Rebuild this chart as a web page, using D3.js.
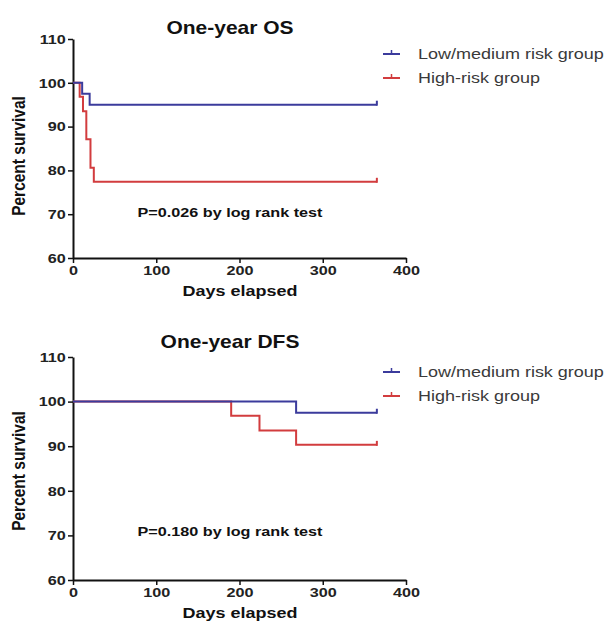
<!DOCTYPE html>
<html>
<head>
<meta charset="utf-8">
<script src="https://cdn.jsdelivr.net/npm/d3@7"></script>
<style>
  body { margin: 0; background: #fff; }
  svg { display: block; font-family: "Liberation Sans", Arial, sans-serif; }
</style>
</head>
<body>
<div id="chart"></div>
<script>
// tick labels and groups
const xTicks = [0, 100, 200, 300, 400];
const yTicks = [60, 70, 80, 90, 100, 110];
const groups = ["Low/medium risk group", "High-risk group"];
const colors = ["#3b3b9c", "#d23c3e"];

// one-year OS (Kaplan-Meier steps)
const osLowDays = [0, 11, 20, 365];
const osLowPct = [100, 97.5, 95, 95];
const osHighDays = [0, 8, 12, 16, 21, 25, 365];
const osHighPct = [100, 96.8, 93.5, 87.1, 80.6, 77.4, 77.4];

// one-year DFS
const dfsLowDays = [0, 268, 365];
const dfsLowPct = [100, 97.5, 97.5];
const dfsHighDays = [0, 190, 224, 268, 365];
const dfsHighPct = [100, 96.8, 93.5, 90.3, 90.3];

const stretch = 1.2; // the source picture is a bit wider than tall

const svg = d3.select("#chart")
    .append("svg")
    .attr("width", 606)
    .attr("height", 628);

function addText(g, x, y, str, size, weight, anchor, fill) {
    return g.append("text")
        .attr("transform", `translate(${x},${y}) scale(${stretch},1)`)
        .attr("font-size", size)
        .attr("font-weight", weight)
        .attr("text-anchor", anchor)
        .attr("fill", fill || "#111")
        .text(str);
}

function drawPanel(p) {
    const g = svg.append("g");

    const x = d3.scaleLinear().domain([0, 400]).range([73, 406]);
    const y = d3.scaleLinear().domain([60, 110]).range([p.bottom, p.top]);

    const xAxis = g.append("g")
        .attr("transform", `translate(0,${p.bottom})`)
        .call(d3.axisBottom(x).tickValues(xTicks).tickSize(5).tickPadding(2).tickSizeOuter(0));
    const yAxis = g.append("g")
        .attr("transform", `translate(73,0)`)
        .call(d3.axisLeft(y).tickValues(yTicks).tickSize(5).tickPadding(1).tickSizeOuter(0));

    [xAxis, yAxis].forEach(a => {
        a.select(".domain").attr("stroke", "#111").attr("stroke-width", 2);
        a.selectAll(".tick line").attr("stroke", "#111").attr("stroke-width", 1.5);
        a.selectAll(".tick text")
            .attr("font-size", 13.5)
            .attr("font-weight", "bold")
            .attr("fill", "#222")
            .attr("font-family", "Liberation Sans, Arial, sans-serif")
            .attr("transform", `scale(${stretch},1)`);
    });

    const line = d3.line()
        .x(d => x(d[0]))
        .y(d => y(d[1]))
        .curve(d3.curveStepAfter);

    // high-risk first so the low/medium curve sits on top where they overlap
    p.series.map((s, i) => ({s, i})).reverse().forEach(({s, i}) => {
        const pts = d3.zip(s.days, s.pct);
        g.append("path")
            .datum(pts)
            .attr("fill", "none")
            .attr("stroke", colors[i])
            .attr("stroke-width", 2)
            .attr("d", line);
        // censor mark at the end of follow-up
        const last = pts[pts.length - 1];
        g.append("line")
            .attr("x1", x(last[0])).attr("x2", x(last[0]))
            .attr("y1", y(last[1]) + 1).attr("y2", y(last[1]) - 4)
            .attr("stroke", colors[i])
            .attr("stroke-width", 2);
    });

    addText(g, 230, p.titleY, p.title, 17.5, "bold", "middle");
    addText(g, 240, p.bottom + 38, "Days elapsed", 15, "bold", "middle");
    g.append("text")
        .attr("transform", `translate(25,${p.labelY}) scale(${stretch},1) rotate(-90)`)
        .attr("font-size", 15.5)
        .attr("font-weight", "bold")
        .attr("text-anchor", "middle")
        .attr("fill", "#111")
        .text("Percent survival");
    addText(g, 230, p.pY, p.pText, 13.5, "bold", "middle");

    // legend
    groups.forEach((name, i) => {
        const ly = p.legendY + i * 24;
        g.append("line")
            .attr("x1", 383).attr("x2", 400)
            .attr("y1", ly).attr("y2", ly)
            .attr("stroke", colors[i]).attr("stroke-width", 2);
        g.append("line")
            .attr("x1", 391.5).attr("x2", 391.5)
            .attr("y1", ly).attr("y2", ly - 4)
            .attr("stroke", colors[i]).attr("stroke-width", 1.5);
        addText(g, 418, ly + 5, name, 15, "normal", "start", "#3a3a3a");
    });
}

drawPanel({
    top: 39, bottom: 258,
    title: "One-year OS", titleY: 34,
    labelY: 156, pY: 217, pText: "P=0.026 by log rank test",
    legendY: 54,
    series: [
        {days: osLowDays, pct: osLowPct},
        {days: osHighDays, pct: osHighPct}
    ]
});

drawPanel({
    top: 357, bottom: 580,
    title: "One-year DFS", titleY: 348,
    labelY: 471, pY: 536, pText: "P=0.180 by log rank test",
    legendY: 372,
    series: [
        {days: dfsLowDays, pct: dfsLowPct},
        {days: dfsHighDays, pct: dfsHighPct}
    ]
});
</script>
</body>
</html>
